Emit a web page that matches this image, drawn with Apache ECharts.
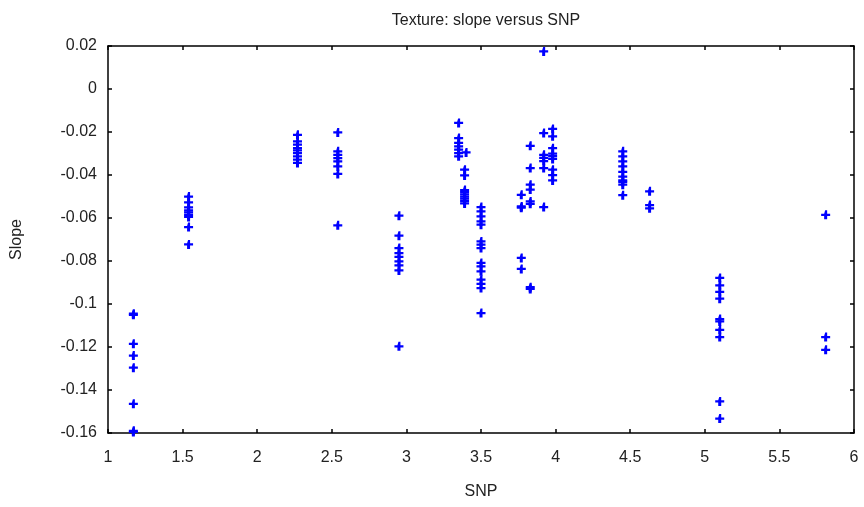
<!DOCTYPE html>
<html>
<head>
<meta charset="utf-8">
<script src="https://cdn.jsdelivr.net/npm/echarts@6/dist/echarts.min.js"></script>
<style>
html,body{margin:0;padding:0;background:#fff;}
#chart{width:864px;height:507px;}
</style>
</head>
<body>
<div id="chart"></div>
<script>
const chartTitle = 'Texture: slope versus SNP';
const xAxisName = 'SNP';
const yAxisName = 'Slope';
const xTicks = { min: 1, max: 6, interval: 0.5 };
const yTicks = { min: -0.16, max: 0.02, interval: 0.02 };

// SNP (x) and Slope (y), column by column
const snpValues = [
  1.17,1.17,1.17,1.17,1.17,1.17,1.17,1.17,
  1.54,1.54,1.54,1.54,1.54,1.54,1.54,1.54,1.54,
  2.27,2.27,2.27,2.27,2.27,2.27,2.27,2.27,2.27,
  2.54,2.54,2.54,2.54,2.54,2.54,2.54,2.54,
  2.95,2.95,2.95,2.95,2.95,2.95,2.95,2.95,2.95,
  3.35,3.35,3.35,3.35,3.35,3.35,3.35,3.40,
  3.39,3.39,3.39,3.39,3.39,3.39,3.39,3.39,3.39,
  3.50,3.50,3.50,3.50,3.50,3.50,3.50,3.50,3.50,3.50,3.50,3.50,3.50,3.50,3.50,
  3.77,3.77,3.77,3.77,3.77,
  3.83,3.83,3.83,3.83,3.83,3.83,3.83,3.83,
  3.92,3.92,3.92,3.92,3.92,3.92,3.92,
  3.98,3.98,3.98,3.98,3.98,3.98,3.98,3.98,3.98,
  4.45,4.45,4.45,4.45,4.45,4.45,4.45,4.45,4.45,4.45,
  4.63,4.63,4.63,
  5.10,5.10,5.10,5.10,5.10,5.10,5.10,5.10,5.10,5.10,
  5.81,5.81,5.81
];
const slopeValues = [
  -0.1045,-0.1050,-0.1185,-0.1240,-0.1296,-0.1464,-0.1590,-0.1595,
  -0.0500,-0.0527,-0.0551,-0.0565,-0.0574,-0.0585,-0.0595,-0.0642,-0.0723,
  -0.0213,-0.0244,-0.0259,-0.0275,-0.0285,-0.0298,-0.0313,-0.0329,-0.0344,
  -0.0202,-0.0290,-0.0306,-0.0321,-0.0337,-0.0360,-0.0395,-0.0634,
  -0.0589,-0.0682,-0.0740,-0.0763,-0.0781,-0.0802,-0.0820,-0.0844,-0.1197,
  -0.0158,-0.0228,-0.0251,-0.0267,-0.0282,-0.0298,-0.0313,-0.0295,
  -0.0375,-0.0402,-0.0470,-0.0480,-0.0490,-0.0500,-0.0510,-0.0520,-0.0532,
  -0.0549,-0.0569,-0.0593,-0.0616,-0.0631,-0.0709,-0.0724,-0.0740,-0.0809,-0.0825,-0.0848,-0.0887,-0.0906,-0.0926,-0.1042,
  -0.0492,-0.0546,-0.0552,-0.0786,-0.0837,
  -0.0264,-0.0368,-0.0445,-0.0468,-0.0523,-0.0534,-0.0922,-0.0930,
  0.0175,-0.0205,-0.0306,-0.0320,-0.0335,-0.0368,-0.0549,
  -0.0186,-0.0220,-0.0275,-0.0300,-0.0312,-0.0325,-0.0375,-0.0400,-0.0425,
  -0.0290,-0.0313,-0.0337,-0.0360,-0.0385,-0.0407,-0.0425,-0.0432,-0.0445,-0.0494,
  -0.0476,-0.0540,-0.0555,
  -0.0879,-0.0913,-0.0944,-0.0975,-0.1070,-0.1081,-0.1120,-0.1154,-0.1453,-0.1533,
  -0.0585,-0.1154,-0.1213
];

const points = snpValues.map((x, i) => [x, slopeValues[i]]);
const plusPath = 'path://M3,0h2v3h3v2h-3v3h-3v-3h-3v-2h3z';
const font = 'Liberation Sans, Arial, sans-serif';

const chart = echarts.init(document.getElementById('chart'), null, { renderer: 'canvas' });
const axisCommon = {
  axisLine: { show: true, onZero: false, lineStyle: { color: '#000', width: 1.5 } },
  axisTick: { show: true, inside: true, length: 4, lineStyle: { color: '#000', width: 1.5 } },
  splitLine: { show: false }
};
chart.setOption({
  animation: false,
  backgroundColor: '#fff',
  title: {
    text: chartTitle, left: 481, top: 8, textAlign: 'center',
    textStyle: { fontFamily: font, fontSize: 16, fontWeight: 'normal', color: '#222' }
  },
  grid: { left: 108, right: 10, top: 46, bottom: 74, containLabel: false },
  xAxis: [
    Object.assign({
      type: 'value', position: 'bottom', min: xTicks.min, max: xTicks.max, interval: xTicks.interval,
      name: xAxisName, nameLocation: 'middle', nameGap: 51,
      nameTextStyle: { fontFamily: font, fontSize: 16, color: '#222' },
      axisLabel: { margin: 17, fontFamily: font, fontSize: 16, color: '#222' }
    }, axisCommon),
    Object.assign({
      type: 'value', position: 'top', min: xTicks.min, max: xTicks.max, interval: xTicks.interval,
      axisLabel: { show: false }
    }, axisCommon)
  ],
  yAxis: [
    Object.assign({
      type: 'value', position: 'left', min: yTicks.min, max: yTicks.max, interval: yTicks.interval,
      name: yAxisName, nameLocation: 'middle', nameGap: 83, nameRotate: 90,
      nameTextStyle: { fontFamily: font, fontSize: 16, color: '#222' },
      axisLabel: { margin: 11, fontFamily: font, fontSize: 16, color: '#222' }
    }, axisCommon),
    Object.assign({
      type: 'value', position: 'right', min: yTicks.min, max: yTicks.max, interval: yTicks.interval,
      axisLabel: { show: false }
    }, axisCommon)
  ],
  series: [{
    type: 'scatter',
    xAxisIndex: 0, yAxisIndex: 0,
    data: points,
    symbol: plusPath,
    symbolSize: 9,
    itemStyle: { color: '#0000ff', opacity: 1 },
    clip: false
  }]
});
</script>
</body>
</html>
